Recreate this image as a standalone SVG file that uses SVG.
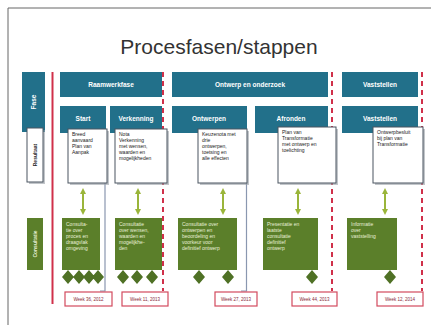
<svg xmlns="http://www.w3.org/2000/svg" width="431" height="325" viewBox="0 0 431 325">
<defs>
<style>
.t{font-family:"Liberation Sans",Arial,sans-serif}
.hd{fill:#22708a}
.hdt{font-family:"Liberation Sans",Arial,sans-serif;font-size:6.5px;fill:#fff;text-anchor:middle;font-weight:bold}
.res{fill:#fff;stroke:#4a5560;stroke-width:1}
.sh{fill:#9aa0a6;opacity:.6}
.rt{font-family:"Liberation Sans",Arial,sans-serif;font-size:5px;fill:#222}
.gr{fill:#5b7f2a}
.gt{font-family:"Liberation Sans",Arial,sans-serif;font-size:5px;fill:#e8f0d8}
.dm{fill:#4f7125}
.dt{fill:#fff;stroke:#d24a5e;stroke-width:1.2}
.dtt{font-family:"Liberation Sans",Arial,sans-serif;font-size:4.5px;fill:#8a2a3a;text-anchor:middle}
.dash{stroke:#d0304a;stroke-width:2;stroke-dasharray:5,4;fill:none}
.sep{stroke:#8a97b0;stroke-width:1.2;fill:none}
.arr{stroke:#9ab53a;stroke-width:2;fill:none;marker-start:url(#ah);marker-end:url(#ah)}
</style>
<marker id="ah" viewBox="0 0 10 10" refX="5" refY="5" markerWidth="3" markerHeight="3" orient="auto-start-reverse">
<path d="M0,0 L10,5 L0,10 z" fill="#9ab53a"/>
</marker>
</defs>
<rect width="431" height="325" fill="#fff"/>
<path d="M8,325 V8 H431" fill="none" stroke="#666" stroke-width="1"/>
<text class="t" x="219" y="54" font-size="21" fill="#333" text-anchor="middle">Procesfasen/stappen</text>

<g id="connectors">
<line x1="52.5" y1="72" x2="52.5" y2="304" stroke="#d0304a" stroke-width="2"/>
<line class="dash" x1="163" y1="72" x2="163" y2="291"/>
<line class="dash" x1="332" y1="72" x2="332" y2="291"/>
<line class="dash" x1="422" y1="72" x2="422" y2="291"/>
<path class="sep" d="M105,183 V291 H100"/>
<path class="sep" d="M246.5,183 V291 H241"/>
<line class="arr" x1="83" y1="191" x2="83" y2="212"/>
<line class="arr" x1="138" y1="191" x2="138" y2="212"/>
<line class="arr" x1="223" y1="191" x2="223" y2="212"/>
<line class="arr" x1="298" y1="191" x2="298" y2="212"/>
<line class="arr" x1="385" y1="191" x2="385" y2="212"/>
</g>

<g id="label-fase"><rect class="hd" x="22" y="72" width="23" height="60"/><text class="hdt" transform="translate(36,102) rotate(-90)">Fase</text></g>
<g id="label-resultaat"><rect class="sh" x="29" y="130" width="16" height="54"/><rect class="res" x="27" y="128" width="16" height="54"/><text class="rt" font-weight="bold" text-anchor="middle" transform="translate(37,155) rotate(-90)">Resultaat</text></g>
<g id="label-consultatie"><rect class="gr" x="27" y="218" width="16" height="52"/><text class="gt" font-weight="bold" text-anchor="middle" transform="translate(37,244) rotate(-90)">Consultatie</text></g>

<g id="fase-raamwerk"><rect class="hd" x="60" y="72" width="102" height="25"/><text class="hdt" x="111" y="87">Raamwerkfase</text></g>
<g id="fase-ontwerp"><rect class="hd" x="172" y="72" width="156" height="25"/><text class="hdt" x="250" y="87">Ontwerp en onderzoek</text></g>
<g id="fase-vaststellen"><rect class="hd" x="342" y="72" width="76" height="25"/><text class="hdt" x="380" y="87">Vaststellen</text></g>

<g id="stap-start"><rect class="hd" x="60" y="106" width="46" height="27"/><text class="hdt" x="83" y="121">Start</text></g>
<g id="stap-verkenning"><rect class="hd" x="110" y="106" width="52" height="27"/><text class="hdt" x="136" y="121">Verkenning</text></g>
<g id="stap-ontwerpen"><rect class="hd" x="172" y="106" width="75" height="27"/><text class="hdt" x="209" y="121">Ontwerpen</text></g>
<g id="stap-afronden"><rect class="hd" x="255" y="106" width="73" height="27"/><text class="hdt" x="291" y="121">Afronden</text></g>
<g id="stap-vaststellen"><rect class="hd" x="342" y="106" width="76" height="27"/><text class="hdt" x="380" y="121">Vaststellen</text></g>

<g id="res-start"><rect class="sh" x="70" y="131" width="39" height="54"/><rect class="res" x="68" y="129" width="39" height="54"/>
<text class="rt" x="72" y="136">Breed</text><text class="rt" x="72" y="142">aanvaard</text><text class="rt" x="72" y="148">Plan van</text><text class="rt" x="72" y="154">Aanpak</text></g>
<g id="res-verkenning"><rect class="sh" x="117" y="131" width="52" height="54"/><rect class="res" x="115" y="129" width="52" height="54"/>
<text class="rt" x="119" y="136">Nota</text><text class="rt" x="119" y="142">Verkenning</text><text class="rt" x="119" y="148">met wensen,</text><text class="rt" x="119" y="154">waarden en</text><text class="rt" x="119" y="160">mogelijkheden</text></g>
<g id="res-ontwerpen"><rect class="sh" x="200" y="131" width="49" height="54"/><rect class="res" x="198" y="129" width="49" height="54"/>
<text class="rt" x="202" y="136">Keuzenota met</text><text class="rt" x="202" y="142">drie</text><text class="rt" x="202" y="148">ontwerpen,</text><text class="rt" x="202" y="154">toetsing en</text><text class="rt" x="202" y="160">alle effecten</text></g>
<g id="res-afronden"><rect class="sh" x="280" y="129" width="58" height="56"/><rect class="res" x="278" y="127" width="58" height="56"/>
<text class="rt" x="282" y="134">Plan van</text><text class="rt" x="282" y="140">Transformatie</text><text class="rt" x="282" y="146">met ontwerp en</text><text class="rt" x="282" y="152">toelichting</text></g>
<g id="res-vaststellen"><rect class="sh" x="375" y="129" width="50" height="56"/><rect class="res" x="373" y="127" width="50" height="56"/>
<text class="rt" x="377" y="134">Ontwerpbesluit</text><text class="rt" x="377" y="140">bij plan van</text><text class="rt" x="377" y="146">Transformatie</text></g>

<g id="con-start"><rect class="gr" x="62" y="218" width="38" height="52"/>
<text class="gt" x="66" y="226">Consulta-</text><text class="gt" x="66" y="232">tie over</text><text class="gt" x="66" y="238">proces en</text><text class="gt" x="66" y="244">draagvlak</text><text class="gt" x="66" y="250">omgeving</text>
<path class="dm" d="M68,270 l6,7 l-6,7 l-6,-7z M79,270 l6,7 l-6,7 l-6,-7z M89,270 l6,7 l-6,7 l-6,-7z M98,270 l6,7 l-6,7 l-6,-7z"/></g>
<g id="con-verkenning"><rect class="gr" x="115" y="218" width="47" height="52"/>
<text class="gt" x="119" y="226">Consultatie</text><text class="gt" x="119" y="232">over wensen,</text><text class="gt" x="119" y="238">waarden en</text><text class="gt" x="119" y="244">mogelijkhe-</text><text class="gt" x="119" y="250">den</text>
<path class="dm" d="M123,270 l6,7 l-6,7 l-6,-7z M137,270 l6,7 l-6,7 l-6,-7z M152,270 l6,7 l-6,7 l-6,-7z"/></g>
<g id="con-ontwerpen"><rect class="gr" x="178" y="218" width="59" height="52"/>
<text class="gt" x="182" y="226">Consultatie over</text><text class="gt" x="182" y="232">ontwerpen en</text><text class="gt" x="182" y="238">beoordeling en</text><text class="gt" x="182" y="244">voorkeur voor</text><text class="gt" x="182" y="250">definitief ontwerp</text>
<path class="dm" d="M199,270 l6,7 l-6,7 l-6,-7z M228,270 l6,7 l-6,7 l-6,-7z"/></g>
<g id="con-afronden"><rect class="gr" x="263" y="218" width="55" height="52"/>
<text class="gt" x="267" y="226">Presentatie en</text><text class="gt" x="267" y="232">laatste</text><text class="gt" x="267" y="238">consultatie</text><text class="gt" x="267" y="244">definitief</text><text class="gt" x="267" y="250">ontwerp</text>
<path class="dm" d="M312,270 l6,7 l-6,7 l-6,-7z"/></g>
<g id="con-vaststellen"><rect class="gr" x="347" y="218" width="50" height="52"/>
<text class="gt" x="351" y="226">Informatie</text><text class="gt" x="351" y="232">over</text><text class="gt" x="351" y="238">vaststelling</text>
<path class="dm" d="M390,270 l6,7 l-6,7 l-6,-7z"/></g>

<g id="datum-1"><rect class="dt" x="65" y="292" width="47" height="14"/><text class="dtt" x="88.5" y="301">Week 36, 2012</text></g>
<g id="datum-2"><rect class="dt" x="122" y="292" width="46" height="14"/><text class="dtt" x="145" y="301">Week 11, 2013</text></g>
<g id="datum-3"><rect class="dt" x="215" y="292" width="42" height="14"/><text class="dtt" x="236" y="301">Week 27, 2013</text></g>
<g id="datum-4"><rect class="dt" x="292" y="292" width="45" height="14"/><text class="dtt" x="314.5" y="301">Week 44, 2013</text></g>
<g id="datum-5"><rect class="dt" x="377" y="292" width="46" height="14"/><text class="dtt" x="400" y="301">Week 12, 2014</text></g>
</svg>
